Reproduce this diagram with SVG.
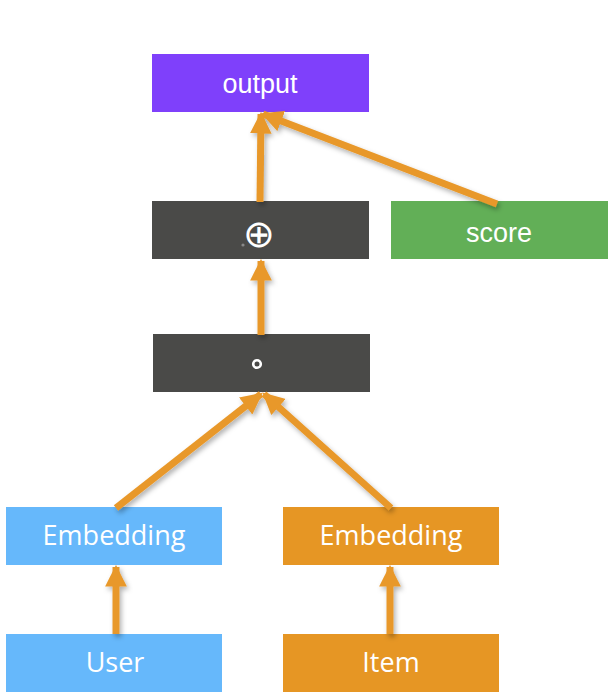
<svg xmlns="http://www.w3.org/2000/svg" width="608" height="700" viewBox="0 0 608 700">
<style>
.lbl{font-family:"Liberation Sans",Arial,sans-serif;font-size:27px;fill:#fff;text-anchor:middle}
.lbl2{font-family:"Open Sans","Noto Sans",sans-serif;font-size:27px;font-weight:500;fill:#fff;text-anchor:middle}
.conn{stroke:#E8982A;stroke-width:7;fill:none;marker-end:url(#ah)}
</style>
<defs>
<marker id="ah" viewBox="0 0 10 10" refX="9" refY="5" markerWidth="3.1" markerHeight="3.1" orient="auto" markerUnits="strokeWidth">
<path d="M0,0 L10,5 L0,10 z" fill="#E8982A"/>
</marker>
<filter id="sh" x="-20%" y="-20%" width="140%" height="140%">
<feDropShadow dx="2" dy="3" stdDeviation="2.5" flood-color="#000" flood-opacity="0.3"/>
</filter>
</defs>
<rect width="608" height="700" fill="#fff"/>
<g id="output"><rect x="152" y="54" width="217" height="58" fill="#7F40FB"/><text class="lbl" x="260" y="93">output</text></g>
<g id="oplus"><rect x="152" y="201" width="217" height="58" fill="#4A4A48"/><text class="lbl" x="259" y="247" style="font-size:38px">⊕</text><circle cx="243" cy="245" r="1.6" fill="#888"/></g>
<g id="score"><rect x="391" y="201" width="217" height="58" fill="#62AF57"/><text class="lbl" x="499" y="242">score</text></g>
<g id="hadamard"><rect x="153" y="334" width="217" height="58" fill="#4A4A48"/><circle cx="257" cy="364" r="3.8" fill="none" stroke="#fff" stroke-width="2.6"/></g>
<g id="emb_user"><rect x="6" y="507" width="216" height="58" fill="#66B8FB"/><text class="lbl2" x="114" y="545">Embedding</text></g>
<g id="emb_item"><rect x="283" y="507" width="216" height="58" fill="#E69624"/><text class="lbl2" x="391" y="545">Embedding</text></g>
<g id="user"><rect x="6" y="634" width="216" height="58" fill="#66B8FB"/><text class="lbl2" x="115" y="672">User</text></g>
<g id="item"><rect x="283" y="634" width="216" height="58" fill="#E69624"/><text class="lbl2" x="391" y="672">Item</text></g>
<g id="connectors" filter="url(#sh)">
<line class="conn" x1="260" y1="202" x2="261" y2="114"/>
<line class="conn" x1="497" y1="204" x2="263" y2="114"/>
<line class="conn" x1="261" y1="335" x2="261" y2="261"/>
<line class="conn" x1="116" y1="508" x2="261" y2="394"/>
<line class="conn" x1="391" y1="508" x2="264" y2="394"/>
<line class="conn" x1="116" y1="634" x2="116" y2="567"/>
<line class="conn" x1="390" y1="634" x2="390" y2="567"/>
</g>
</svg>
